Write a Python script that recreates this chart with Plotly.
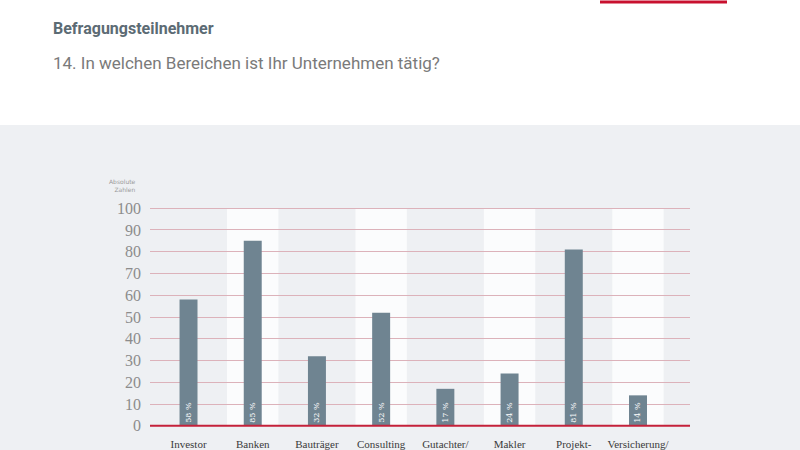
import plotly.graph_objects as go

categories = ["Investor", "Banken", "Bauträger", "Consulting", "Gutachter/", "Makler", "Projekt-", "Versicherung/"]
values = [58, 85, 32, 52, 17, 24, 81, 14]
pct_labels = ["58 %", "85 %", "32 %", "52 %", "17 %", "24 %", "81 %", "14 %"]
y_ticks = [0, 10, 20, 30, 40, 50, 60, 70, 80, 90, 100]

W, H = 800, 450
L, R, T, B = 150, 110, 206, 22
pw, ph = W - L - R, H - T - B

def px_x(px):
    return (px - L) / pw

def px_y(py):
    return (H - B - py) / ph

fig = go.Figure()
fig.add_trace(go.Bar(
    x=categories, y=values, width=0.28,
    marker=dict(color="#6f8491", line=dict(width=0)),
    text=pct_labels, textposition="inside", insidetextanchor="start",
    textangle=-90,
    textfont=dict(family="DejaVu Serif", size=8, color="white"),
    cliponaxis=False,
))

shapes = []
# grey panel
shapes.append(dict(type="rect", xref="paper", yref="paper", layer="below",
                   x0=px_x(0), x1=px_x(800), y0=px_y(450), y1=px_y(125),
                   fillcolor="#eef0f3", line=dict(width=0)))
# alternating white stripes
for i, c in enumerate(categories):
    if i % 2 == 1:
        shapes.append(dict(type="rect", xref="x", yref="y", layer="below",
                           x0=i - 0.4, x1=i + 0.4, y0=0, y1=max(y_ticks),
                           fillcolor="#fbfcfd", line=dict(width=0)))
# zero line
shapes.append(dict(type="line", xref="paper", yref="y", x0=0, x1=1, y0=0, y1=0,
                   line=dict(color="#c4213a", width=2), layer="above"))
# decorative red line at top
shapes.append(dict(type="line", xref="paper", yref="paper",
                   x0=px_x(600), x1=px_x(727), y0=px_y(2), y1=px_y(2),
                   line=dict(color="#c8102e", width=3)))

annotations = [
    dict(text="<b>Befragungsteilnehmer</b>", xref="paper", yref="paper",
         x=px_x(51), y=px_y(28), xanchor="left", yanchor="middle", showarrow=False,
         font=dict(family="Roboto", size=16, color="#5c6b74")),
    dict(text="14. In welchen Bereichen ist Ihr Unternehmen tätig?", xref="paper", yref="paper",
         x=px_x(51), y=px_y(63), xanchor="left", yanchor="middle", showarrow=False,
         font=dict(family="Roboto", size=17, color="#7a7a7a")),
    dict(text="Absolute<br>Zahlen", xref="paper", yref="paper",
         x=px_x(138), y=px_y(185), xanchor="right", yanchor="middle", align="right",
         showarrow=False, font=dict(family="DejaVu Sans", size=6, color="#9a9a9a")),
]

fig.update_layout(
    width=W, height=H,
    margin=dict(l=L, r=R, t=T, b=B, autoexpand=False),
    paper_bgcolor="white", plot_bgcolor="rgba(0,0,0,0)",
    showlegend=False, shapes=shapes, annotations=annotations,
    xaxis=dict(range=[-0.6, len(categories) - 0.19], showgrid=False, zeroline=False,
               showline=False, ticks="", ticklabelstandoff=8,
               tickfont=dict(family="Liberation Serif", size=11, color="#3a3a3a"),
               fixedrange=True),
    yaxis=dict(range=[-1, 101], tickvals=y_ticks, showgrid=True,
               gridcolor="#dcb2ba", gridwidth=1, zeroline=False, showline=False,
               ticks="", ticklabelstandoff=8,
               tickfont=dict(family="Liberation Serif", size=16, color="#8c8c8c"),
               fixedrange=True),
    bargap=0.7,
)

fig.write_html("out.html", config={"displayModeBar": False},
               post_script="document.body.style.margin='0';document.body.style.overflow='hidden';")
